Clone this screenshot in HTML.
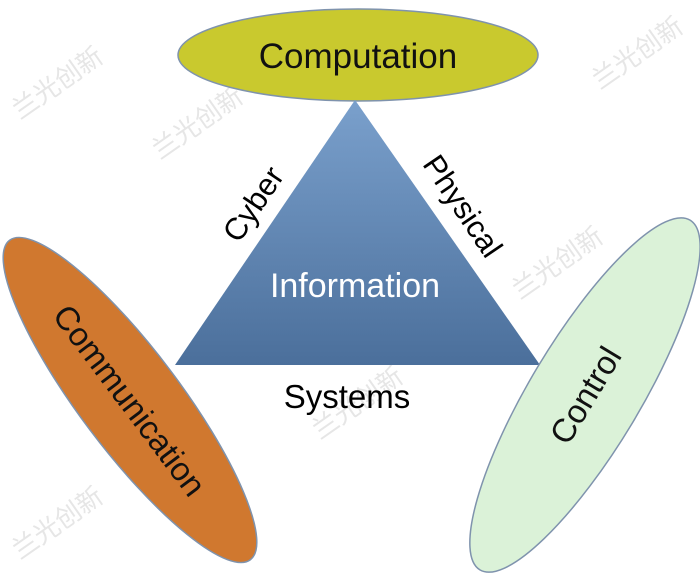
<!DOCTYPE html>
<html><head><meta charset="utf-8"><style>
html,body{margin:0;padding:0;background:#fff;}
svg{display:block;}
text{font-family:"Liberation Sans",sans-serif;}
</style></head><body>
<svg width="700" height="583" viewBox="0 0 700 583" xmlns="http://www.w3.org/2000/svg">
<defs>
<linearGradient id="tg" x1="0" y1="0" x2="0" y2="1">
<stop offset="0" stop-color="#7aa0cc"/>
<stop offset="1" stop-color="#4b6f9b"/>
</linearGradient>
</defs>
<g fill="#e6e6e6" font-family="Noto Sans CJK SC, sans-serif" font-size="26">
<text transform="translate(20,120) rotate(-35)">兰光创新</text>
<text transform="translate(160,160) rotate(-35)">兰光创新</text>
<text transform="translate(600,90) rotate(-35)">兰光创新</text>
<text transform="translate(520,300) rotate(-35)">兰光创新</text>
<text transform="translate(20,560) rotate(-35)">兰光创新</text>
<text transform="translate(320,440) rotate(-35)">兰光创新</text>
<text transform="translate(480,560) rotate(-35)">兰光创新</text>
</g>
<ellipse cx="358" cy="55" rx="180" ry="46" fill="#c9c92e" stroke="#7f93ad" stroke-width="1.5"/>
<text x="358" y="68" font-size="35" text-anchor="middle" fill="#111">Computation</text>
<polygon points="355,100 175,365 540,365" fill="url(#tg)"/>
<text x="355" y="297" font-size="34" text-anchor="middle" fill="#fff">Information</text>
<text transform="translate(262,210) rotate(-56)" font-size="31" text-anchor="middle" fill="#000">Cyber</text>
<text transform="translate(454,212) rotate(56)" font-size="31" text-anchor="middle" fill="#000">Physical</text>
<text x="347" y="408" font-size="33" text-anchor="middle" fill="#000">Systems</text>
<g transform="translate(130,400) rotate(53)">
<ellipse cx="0" cy="0" rx="200" ry="50" fill="#d0782f" stroke="#7f93ad" stroke-width="1.5"/>
<text x="0" y="12" font-size="33" text-anchor="middle" fill="#111">Communication</text>
</g>
<g transform="translate(585,395) rotate(-59)">
<ellipse cx="0" cy="0" rx="204" ry="55" fill="#dbf2d8" stroke="#7f93ad" stroke-width="1.5"/>
<text x="0" y="12" font-size="33" text-anchor="middle" fill="#111">Control</text>
</g>
</svg>
</body></html>
